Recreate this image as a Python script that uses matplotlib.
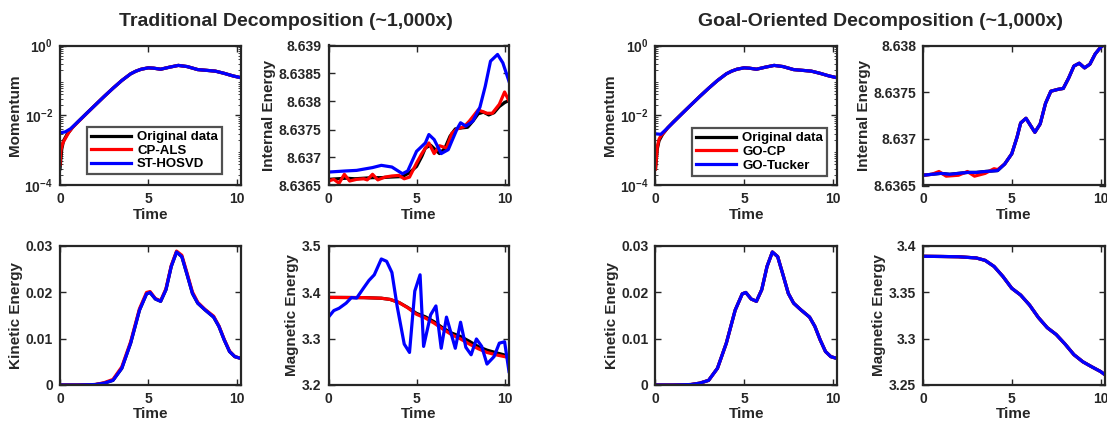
import matplotlib
matplotlib.use("Agg")
import matplotlib.pyplot as plt
import matplotlib.ticker as ticker

plt.rcParams['font.family'] = ['Liberation Sans', 'DejaVu Sans']
plt.rcParams['font.weight'] = 'bold'
plt.rcParams['mathtext.fontset'] = 'custom'
plt.rcParams['mathtext.rm'] = 'Liberation Sans:bold'
plt.rcParams['mathtext.bf'] = 'Liberation Sans:bold'
plt.rcParams['mathtext.it'] = 'Liberation Sans:bold:italic'

# ---------------- data ----------------
# momentum (log scale)
t_mom = [0, 0.1, 0.2, 0.4, 0.7, 1.0, 1.5, 2.0, 2.5, 3.0, 3.5, 4.0, 4.3, 4.6,
         5.0, 5.3, 5.7, 6.2, 6.7, 7.2, 7.8, 8.3, 8.8, 9.3, 9.8, 10.25]
mom_orig = [3e-4, 1.1e-3, 1.9e-3, 2.9e-3, 4.5e-3, 6.5e-3, 1.15e-2, 2.0e-2, 3.5e-2,
            6.0e-2, 0.10, 0.155, 0.185, 0.21, 0.23, 0.225, 0.21, 0.24, 0.27, 0.25,
            0.205, 0.195, 0.185, 0.16, 0.135, 0.12]
t_mom_cp = [0, 0.05, 0.15, 0.3, 0.5, 0.7]
mom_cp = [4e-4, 1.0e-3, 1.6e-3, 2.2e-3, 3.3e-3, 4.5e-3]
t_mom_st = [0, 0.3, 0.6, 1.0]
mom_st = [3.2e-3, 3.4e-3, 4.2e-3, 6.5e-3]
t_mom_gocp = [0, 0.1, 0.2, 0.3, 0.7]
mom_gocp = [3e-4, 1.25e-3, 2.1e-3, 2.6e-3, 4.5e-3]
t_mom_got = [0, 0.3, 0.5, 0.7]
mom_got = [3.0e-3, 2.9e-3, 3.6e-3, 4.5e-3]

# internal energy
t_ie = [0, 0.5, 1, 1.5, 2, 2.5, 3, 3.5, 4.2, 4.6, 5.0, 5.3, 5.5, 5.8, 6.0, 6.3,
        6.6, 6.9, 7.2, 7.6, 7.9, 8.2, 8.5, 8.8, 9.1, 9.4, 9.7, 10.0, 10.25]
ie_orig = [8.63661, 8.63662, 8.63663, 8.63662, 8.63663, 8.63664, 8.63664, 8.63665,
           8.63666, 8.63673, 8.63684, 8.63702, 8.63717, 8.63722, 8.63716, 8.63707,
           8.63716, 8.63738, 8.63751, 8.63753, 8.63754, 8.63765, 8.63778, 8.63781,
           8.63776, 8.63780, 8.63791, 8.63798, 8.63802]
t_ie_cp = [0, 0.3, 0.6, 0.9, 1.2, 1.6, 2.0, 2.2, 2.5, 2.8, 3.2, 3.6, 4.0, 4.3, 4.6,
           5.0, 5.3, 5.7, 6.0, 6.3, 6.7, 7.0, 7.3, 7.7, 8.0, 8.5, 9.0, 9.3, 9.7, 10.0, 10.25]
ie_cp = [8.63658, 8.63661, 8.63654, 8.63670, 8.63658, 8.63661, 8.63662, 8.63660,
         8.63670, 8.63660, 8.63665, 8.63667, 8.63668, 8.63662, 8.63665, 8.63690,
         8.63707, 8.63726, 8.63707, 8.63721, 8.63717, 8.63743, 8.63751, 8.63755,
         8.63765, 8.63785, 8.63779, 8.63779, 8.63795, 8.63817, 8.63801]
t_ie_st = [0, 1.0, 1.6, 2.5, 3.0, 3.6, 4.2, 4.5, 5.0, 5.5, 5.7, 6.0, 6.4, 6.8, 7.0,
           7.3, 7.5, 7.8, 8.2, 8.6, 8.9, 9.2, 9.6, 9.9, 10.25]
ie_st = [8.63674, 8.63676, 8.63677, 8.63682, 8.63686, 8.63683, 8.63671, 8.63676,
         8.63711, 8.63726, 8.63741, 8.63732, 8.63707, 8.63714, 8.63729, 8.63751,
         8.63762, 8.63756, 8.63765, 8.63790, 8.63827, 8.63872, 8.63884, 8.63869, 8.63836]
t_ie_gocp = [0, 0.5, 0.9, 1.3, 2.0, 2.5, 2.9, 3.5, 4.0, 4.2, 4.6, 5.0]
ie_gocp = [8.63661, 8.63662, 8.63665, 8.63660, 8.63661, 8.63665, 8.63660, 8.63663,
           8.63668, 8.63667, 8.63673, 8.63684]

# kinetic energy
t_ke = [0, 1, 2, 2.5, 3, 3.5, 4, 4.5, 4.9, 5.1, 5.4, 5.7, 6.0, 6.3, 6.6, 6.9, 7.2,
        7.5, 7.8, 8.2, 8.7, 9.0, 9.3, 9.6, 9.9, 10.25]
ke_orig = [0, 0, 0.0001, 0.0004, 0.001, 0.0036, 0.009, 0.0161, 0.0196, 0.0199,
           0.0185, 0.018, 0.0205, 0.0255, 0.0286, 0.0276, 0.0237, 0.0197, 0.0176,
           0.0162, 0.0146, 0.0126, 0.0097, 0.0072, 0.0061, 0.0057]
ke_cp = [0, 0, 0.0001, 0.0005, 0.0012, 0.0039, 0.0093, 0.0164, 0.0199, 0.0201,
         0.0186, 0.0181, 0.0207, 0.0257, 0.0288, 0.0279, 0.0240, 0.0200, 0.0178,
         0.0163, 0.0148, 0.0127, 0.0098, 0.0073, 0.0061, 0.0057]

# magnetic energy
t_me = [0, 1, 2, 3, 3.5, 4, 4.5, 5, 5.5, 6, 6.5, 7, 7.5, 8, 8.5, 9, 9.5, 10, 10.25]
me_orig = [3.3884, 3.3882, 3.3879, 3.3866, 3.384, 3.3775, 3.3667, 3.354, 3.3467,
           3.336, 3.3225, 3.3116, 3.3043, 3.294, 3.2826, 3.275, 3.2696, 3.2645, 3.261]
me_cp = [3.3884, 3.3882, 3.3879, 3.3866, 3.384, 3.3775, 3.3660, 3.352, 3.344,
         3.333, 3.320, 3.308, 3.299, 3.288, 3.278, 3.270, 3.265, 3.261, 3.259]
t_me_st = [0, 0.3, 0.6, 1.0, 1.3, 1.6, 2.0, 2.3, 2.6, 3.0, 3.3, 3.6, 3.9, 4.3, 4.6,
           4.9, 5.2, 5.4, 5.8, 6.1, 6.4, 6.7, 7.2, 7.5, 7.8, 8.1, 8.4, 8.7, 9.0,
           9.4, 9.7, 10.0, 10.25]
me_st = [3.346, 3.360, 3.365, 3.376, 3.388, 3.387, 3.409, 3.425, 3.437, 3.471,
         3.466, 3.442, 3.369, 3.288, 3.270, 3.402, 3.437, 3.283, 3.351, 3.370,
         3.279, 3.346, 3.279, 3.335, 3.281, 3.265, 3.299, 3.283, 3.245, 3.261,
         3.290, 3.293, 3.229]

titles = ["Traditional Decomposition (~1,000x)", "Goal-Oriented Decomposition (~1,000x)"]
legend_trad = ["Original data", "CP-ALS", "ST-HOSVD"]
legend_go = ["Original data", "GO-CP", "GO-Tucker"]

# ---------------- figure ----------------
W, H = 1107, 422
fig = plt.figure(figsize=(W / 100, H / 100), dpi=100)
AX = '#262626'
LW = 2.3


def make_ax(x0, x1, y0, y1):
    ax = fig.add_axes([x0 / W, 1 - y1 / H, (x1 - x0) / W, (y1 - y0) / H])
    for s in ax.spines.values():
        s.set_linewidth(1.6)
        s.set_color(AX)
    ax.tick_params(direction='in', top=True, right=True, length=4, width=1,
                   color=AX, labelcolor=AX, labelsize=10, pad=5)
    ax.set_xlim(0, 10.25)
    ax.set_xticks([0, 5, 10])
    ax.set_xlabel("Time", fontsize=11, fontweight='bold', color=AX, labelpad=1)
    return ax


def ylabel(ax, txt):
    ax.set_ylabel(txt, fontsize=11, fontweight='bold', color=AX, labelpad=2)


def momentum(ax, t_a, a, t_b, b, names, anchor):
    ax.plot(t_mom, mom_orig, color='k', lw=LW, label=names[0])
    ax.plot(t_a + t_mom[7:], a + mom_orig[7:], color='r', lw=LW, label=names[1])
    ax.plot(t_b + t_mom[7:], b + mom_orig[7:], color='b', lw=LW, label=names[2])
    ax.set_yscale('log')
    ax.set_ylim(1e-4, 1)
    ax.set_yticks([1e-4, 1e-2, 1], [r'$10^{-4}$', r'$10^{-2}$', r'$10^{0}$'])
    ax.yaxis.set_minor_locator(ticker.LogLocator(base=10, subs=range(2, 10)))
    ax.yaxis.set_minor_formatter(ticker.NullFormatter())
    ax.tick_params(which='minor', direction='in', length=2, width=0.6, color=AX,
                   top=True, right=True)
    ylabel(ax, "Momentum")
    leg = ax.legend(loc='lower right', bbox_to_anchor=anchor, fontsize=9.5,
                    frameon=True, fancybox=False, handlelength=3.0,
                    labelspacing=0.1, borderpad=0.3, handletextpad=0.5,
                    borderaxespad=0)
    leg.get_frame().set_edgecolor(AX)
    leg.get_frame().set_linewidth(1.6)
    for txt in leg.get_texts():
        txt.set_fontweight('bold')


# ----- traditional -----
ax = make_ax(60, 241, 45.5, 185.5)
momentum(ax, t_mom_cp, mom_cp, t_mom_st, mom_st, legend_trad, (0.895, 0.079))

ax = make_ax(328.5, 509, 45.5, 185.5)
ax.plot(t_ie, ie_orig, color='k', lw=LW)
ax.plot(t_ie_cp, ie_cp, color='r', lw=LW)
ax.plot(t_ie_st, ie_st, color='b', lw=LW)
ax.set_ylim(8.6365, 8.639)
ax.set_yticks([8.6365, 8.637, 8.6375, 8.638, 8.6385, 8.639],
              ['8.6365', '8.637', '8.6375', '8.638', '8.6385', '8.639'])
ylabel(ax, "Internal Energy")

ax = make_ax(60, 241, 245.5, 385)
ax.plot(t_ke, ke_orig, color='k', lw=LW)
ax.plot(t_ke, ke_cp, color='r', lw=LW)
ax.plot(t_ke, ke_orig, color='b', lw=LW)
ax.set_ylim(0, 0.03)
ax.set_yticks([0, 0.01, 0.02, 0.03], ['0', '0.01', '0.02', '0.03'])
ylabel(ax, "Kinetic Energy")

ax = make_ax(328.5, 509, 245.5, 385)
ax.plot(t_me, me_orig, color='k', lw=LW)
ax.plot(t_me, me_cp, color='r', lw=LW)
ax.plot(t_me_st, me_st, color='b', lw=LW)
ax.set_ylim(3.2, 3.5)
ax.set_yticks([3.2, 3.3, 3.4, 3.5], ['3.2', '3.3', '3.4', '3.5'])
ylabel(ax, "Magnetic Energy")

# ----- goal-oriented -----
ax = make_ax(655.5, 837, 45.5, 185.5)
momentum(ax, t_mom_gocp, mom_gocp, t_mom_got, mom_got, legend_go, (0.945, 0.071))

ax = make_ax(923, 1105, 45.5, 185.5)
ax.plot(t_ie, ie_orig, color='k', lw=LW)
ax.plot(t_ie_gocp + t_ie[11:], ie_gocp + ie_orig[11:], color='r', lw=LW)
ax.plot(t_ie, ie_orig, color='b', lw=LW)
ax.set_ylim(8.6365, 8.638)
ax.set_yticks([8.6365, 8.637, 8.6375, 8.638], ['8.6365', '8.637', '8.6375', '8.638'])
ylabel(ax, "Internal Energy")

ax = make_ax(655.5, 837, 245.5, 385)
ax.plot(t_ke, ke_orig, color='k', lw=LW)
ax.plot(t_ke, ke_orig, color='r', lw=LW)
ax.plot(t_ke, ke_orig, color='b', lw=LW)
ax.set_ylim(0, 0.03)
ax.set_yticks([0, 0.01, 0.02, 0.03], ['0', '0.01', '0.02', '0.03'])
ylabel(ax, "Kinetic Energy")

ax = make_ax(923, 1105, 245.5, 385)
ax.plot(t_me, me_orig, color='k', lw=LW)
ax.plot(t_me, me_orig, color='r', lw=LW)
ax.plot(t_me, me_orig, color='b', lw=LW)
ax.set_ylim(3.25, 3.4)
ax.set_yticks([3.25, 3.3, 3.35, 3.4], ['3.25', '3.3', '3.35', '3.4'])
ylabel(ax, "Magnetic Energy")

fig.text(286 / W, 1 - 21 / H, titles[0], ha='center', va='center', fontsize=14,
         fontweight='bold', color=AX)
fig.text(880 / W, 1 - 21 / H, titles[1], ha='center', va='center', fontsize=14,
         fontweight='bold', color=AX)

fig.savefig("out.png", dpi=100)
